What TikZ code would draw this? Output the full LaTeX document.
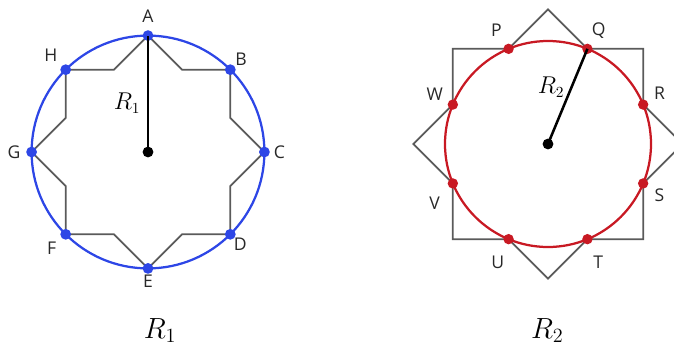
\documentclass[tikz,border=0pt]{standalone}
\usepackage{amsmath,amssymb}
\usepackage{fontspec}
\usepackage{xcolor}
\usepackage{tikz}
\usetikzlibrary{positioning,calc}

\newfontfamily\lblfont{Open Sans}
\definecolor{ringblue}{RGB}{45,70,230}
\definecolor{ringred}{RGB}{200,25,35}
\definecolor{stargray}{RGB}{90,90,90}
\definecolor{lblgray}{RGB}{40,40,40}

\begin{document}
\begin{tikzpicture}[
		starline/.style={draw=stargray, line width=1.2pt, line join=miter},
		bluedot/.style={circle, fill=ringblue, inner sep=0pt, minimum size=0.27cm},
		reddot/.style={circle, fill=ringred, inner sep=0pt, minimum size=0.26cm},
		centerdot/.style={circle, fill=black, inner sep=0pt, minimum size=0.27cm},
		ptlabel/.style={text=lblgray, font=\lblfont\fontsize{12.5}{14}\selectfont, inner sep=0pt},
		radlabel/.style={font=\fontsize{16}{18}\selectfont, inner sep=0pt}
	]
		\clip (0,0) rectangle (16.85,8.675);

		% left: R1
		\begin{scope}[shift={(3.7,4.875)}, scale=2.91]
			\draw[starline] (0,1) -- (.293,.707) -- (.707,.707) -- (.707,.293) -- (1,0) -- (.707,-.293) -- (.707,-.707) -- (.293,-.707)
				-- (0,-1) -- (-.293,-.707) -- (-.707,-.707) -- (-.707,-.293) -- (-1,0) -- (-.707,.293) -- (-.707,.707) -- (-.293,.707) -- cycle;
			\draw[ringblue, line width=1.6pt] (0,0) circle (1);

			\node[centerdot] (o1) at (0,0) {};
			\node[bluedot] (A) at (90:1) {};
			\node[bluedot] (B) at (45:1) {};
			\node[bluedot] (C) at (0:1) {};
			\node[bluedot] (D) at (-45:1) {};
			\node[bluedot] (E) at (-90:1) {};
			\node[bluedot] (F) at (-135:1) {};
			\node[bluedot] (G) at (180:1) {};
			\node[bluedot] (H) at (135:1) {};
			\draw[line width=2pt] (o1.center) -- (A.center);
			\node[radlabel] (r1) at (-0.18,0.42) {$R_1$};

			\node[ptlabel] (lA) at (90:1.17) {A};
			\node[ptlabel] (lB) at (45:1.13) {B};
			\node[ptlabel] (lC) at (0:1.13) {C};
			\node[ptlabel] (lD) at (-45:1.12) {D};
			\node[ptlabel] (lE) at (-90:1.11) {E};
			\node[ptlabel] (lF) at (-135:1.17) {F};
			\node[ptlabel] (lG) at (180:1.15) {G};
			\node[ptlabel] (lH) at (135:1.18) {H};
		\end{scope}

		% right: R2
		\begin{scope}[shift={(13.7,5.075)}, scale=2.575]
			\draw[starline] (0,1.307) -- (.383,.924) -- (.924,.924) -- (.924,.383) -- (1.307,0) -- (.924,-.383) -- (.924,-.924) -- (.383,-.924)
				-- (0,-1.307) -- (-.383,-.924) -- (-.924,-.924) -- (-.924,-.383) -- (-1.307,0) -- (-.924,.383) -- (-.924,.924) -- (-.383,.924) -- cycle;
			\draw[ringred, line width=1.6pt] (0,0) circle (1);

			\node[centerdot] (o2) at (0,0) {};
			\node[reddot] (P) at (112.5:1) {};
			\node[reddot] (Q) at (67.5:1) {};
			\node[reddot] (R) at (22.5:1) {};
			\node[reddot] (S) at (-22.5:1) {};
			\node[reddot] (T) at (-67.5:1) {};
			\node[reddot] (U) at (-112.5:1) {};
			\node[reddot] (V) at (-157.5:1) {};
			\node[reddot] (W) at (157.5:1) {};
			\draw[line width=1.8pt] (o2.center) -- (Q.center);
			\node[radlabel] (r2) at (0.03,0.55) {$R_2$};

			\node[ptlabel] (lP) at (114.5:1.21) {P};
			\node[ptlabel] (lQ) at (66:1.21) {Q};
			\node[ptlabel] (lR) at (24.5:1.19) {R};
			\node[ptlabel] (lS) at (-24.5:1.19) {S};
			\node[ptlabel] (lT) at (-67:1.25) {T};
			\node[ptlabel] (lU) at (-113:1.25) {U};
			\node[ptlabel] (lV) at (-152.5:1.24) {V};
			\node[ptlabel] (lW) at (156.5:1.2) {W};
		\end{scope}

		\node[font=\fontsize{21}{25}\selectfont, anchor=base] (cap1) at (4.0,0.225) {$R_1$};
		\node[font=\fontsize{21}{25}\selectfont, anchor=base] (cap2) at (13.68,0.225) {$R_2$};
	\end{tikzpicture}
\end{document}
